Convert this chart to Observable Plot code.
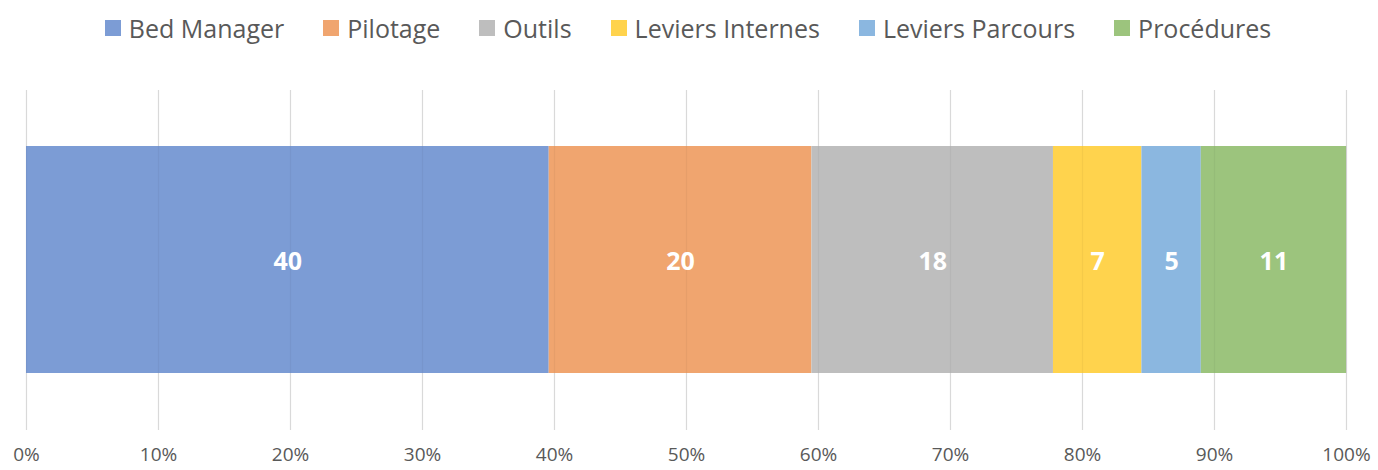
<!DOCTYPE html>
<html>
<head>
<meta charset="utf-8">
<script src="https://cdn.jsdelivr.net/npm/d3@7"></script>
<script src="https://cdn.jsdelivr.net/npm/@observablehq/plot@0.6"></script>
<style>
  html, body { margin: 0; padding: 0; background: #fff; }
  body { width: 1378px; height: 470px; overflow: hidden; font-family: "Open Sans", sans-serif; }
  #legend { height: 56px; display: flex; justify-content: center; align-items: center; gap: 39px; font-size: 25px; color: #595959; padding-right: 2px; }
  .item { display: flex; align-items: center; gap: 8px; }
  .sw { width: 16px; height: 16px; display: inline-block; }
</style>
</head>
<body>
<div id="legend"></div>
<div id="chart"></div>
<script>
const categories = ["Bed Manager", "Pilotage", "Outils", "Leviers Internes", "Leviers Parcours", "Procédures"];
const values = [39.6, 19.9, 18.3, 6.7, 4.5, 11.0];
const labels = ["40", "20", "18", "7", "5", "11"];
const colors = ["#7C9CD5", "#F0A56F", "#BEBEBE", "#FFD34D", "#8BB7E0", "#9CC47D"];
const ticks = [0, 0.1, 0.2, 0.3, 0.4, 0.5, 0.6, 0.7, 0.8, 0.9, 1];

const data = categories.map((c, i) => ({cat: c, value: values[i], label: labels[i]}));

const legend = document.getElementById("legend");
categories.forEach((c, i) => {
  const it = document.createElement("div");
  it.className = "item";
  const sw = document.createElement("span");
  sw.className = "sw";
  sw.style.background = colors[i];
  const t = document.createElement("span");
  t.textContent = c;
  it.appendChild(sw); it.appendChild(t);
  legend.appendChild(it);
});

const chart = Plot.plot({
  width: 1378,
  height: 414,
  marginLeft: 26,
  marginRight: 32,
  marginTop: 34,
  marginBottom: 40,
  style: {fontFamily: "Open Sans, sans-serif", background: "#fff", overflow: "visible"},
  x: {domain: [0, 1], ticks: ticks, tickFormat: d3.format(".0%"), tickSize: 0, tickPadding: 17, label: null},
  color: {domain: categories, range: colors},
  marks: [
    Plot.ruleX(ticks, {stroke: "#D9D9D9", strokeWidth: 1.2}),
    Plot.barX(data, Plot.stackX({x: "value", fill: "cat", offset: "normalize", insetTop: 56, insetBottom: 57})),
    Plot.ruleX(ticks, {stroke: "#000", strokeOpacity: 0.04, strokeWidth: 1.2, insetTop: 56, insetBottom: 57}),
    Plot.text(data, Plot.stackX({x: "value", z: "cat", text: "label", offset: "normalize", fill: "#fff", fontSize: 25, fontWeight: "bold", dy: 1}))
  ]
});
chart.querySelectorAll('g[aria-label="x-axis tick label"]').forEach(g => {
  g.setAttribute("font-size", 19);
  g.setAttribute("fill", "#595959");
});
document.getElementById("chart").appendChild(chart);
</script>
</body>
</html>
